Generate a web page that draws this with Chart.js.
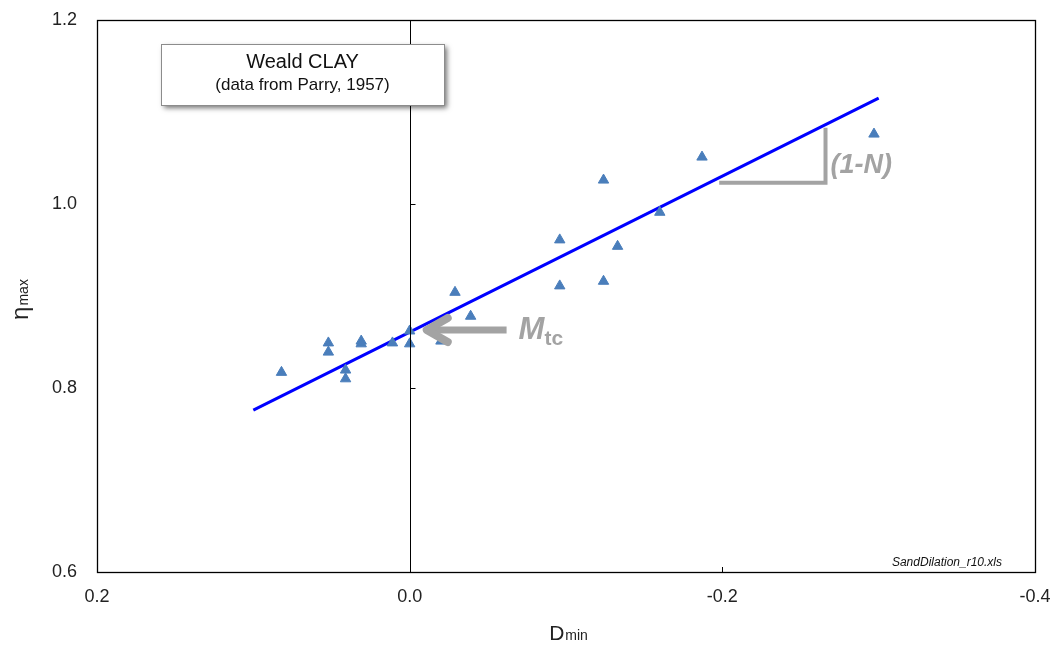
<!DOCTYPE html>
<html>
<head>
<meta charset="utf-8">
<script src="https://cdn.jsdelivr.net/npm/chart.js@4"></script>
<style>
  html, body { margin: 0; padding: 0; background: #fff; }
  #wrap { width: 1053px; height: 646px; }
</style>
</head>
<body>
<div id="wrap"><canvas id="c" width="1053" height="646"></canvas></div>
<script>
// Weald clay: peak stress ratio vs minimum dilatancy (Parry, 1957)
const dMin = [0.082, 0.052, 0.052, 0.041, 0.041, 0.031, 0.031, 0.011, 0.0, 0.0, -0.020,
  -0.029, -0.039, -0.096, -0.096, -0.124, -0.124, -0.133, -0.160, -0.187, -0.297];
const etaMax = [0.817, 0.849, 0.839, 0.8195, 0.810, 0.851, 0.848, 0.849, 0.862, 0.848, 0.851,
  0.904, 0.878, 0.961, 0.911, 1.026, 0.916, 0.954, 0.991, 1.051, 1.076];

// fitted line eta = Mtc - (1-N) * D
const fitX = [0.1, -0.3];
const fitY = [0.776, 1.115];

const xTicks = [0.2, 0.0, -0.2, -0.4];
const yTicks = [0.6, 0.8, 1.0, 1.2];

const GREY = '#a3a3a3';
const SANS = '"Liberation Sans", Arial, sans-serif';

const toPts = (xs, ys) => xs.map((x, i) => ({ x, y: ys[i] }));

// draws frame, zero line, annotations and axis titles
const decor = {
  id: 'decor',
  afterDatasetsDraw(chart) {
    const { ctx, chartArea: a, scales: { x, y } } = chart;
    ctx.save();

    // frame
    ctx.strokeStyle = '#000';
    ctx.lineWidth = 1.3;
    ctx.strokeRect(a.left + 0.5, a.top + 0.5, a.right - a.left, a.bottom - a.top);

    // vertical line at D = 0 with small ticks
    const x0 = Math.round(x.getPixelForValue(0)) + 0.5;
    ctx.lineWidth = 1;
    ctx.beginPath();
    ctx.moveTo(x0, a.top); ctx.lineTo(x0, a.bottom);
    [0.8, 1.0].forEach(v => {
      const py = Math.round(y.getPixelForValue(v)) + 0.5;
      ctx.moveTo(x0, py); ctx.lineTo(x0 + 5, py);
    });
    const xt = Math.round(x.getPixelForValue(-0.2)) + 0.5;
    ctx.moveTo(xt, a.bottom); ctx.lineTo(xt, a.bottom - 5);
    ctx.stroke();
    ctx.restore();
  },
  afterDraw(chart) {
    const { ctx, chartArea: a, scales: { x, y } } = chart;
    ctx.save();

    // Mtc arrow
    const ay = y.getPixelForValue(0.863);
    const ax1 = x.getPixelForValue(-0.062), tip = x.getPixelForValue(-0.009);
    ctx.strokeStyle = GREY; ctx.fillStyle = GREY;
    ctx.lineWidth = 7; ctx.lineCap = 'butt';
    ctx.beginPath(); ctx.moveTo(ax1, ay); ctx.lineTo(tip + 6, ay); ctx.stroke();
    ctx.lineWidth = 8; ctx.lineJoin = 'round'; ctx.lineCap = 'round';
    ctx.beginPath();
    ctx.moveTo(tip + 24, ay - 12); ctx.lineTo(tip + 3, ay); ctx.lineTo(tip + 24, ay + 12);
    ctx.stroke();

    ctx.textBaseline = 'alphabetic';
    ctx.font = 'italic bold 31px ' + SANS;
    ctx.fillText('M', ax1 + 12, ay + 9);
    const mw = ctx.measureText('M').width;
    ctx.font = 'bold 21px ' + SANS;
    ctx.fillText('tc', ax1 + 12 + mw, ay + 15);

    // slope triangle (1-N)
    const tx1 = x.getPixelForValue(-0.198), tx2 = x.getPixelForValue(-0.266);
    const ty1 = y.getPixelForValue(1.023), ty2 = y.getPixelForValue(1.083);
    ctx.lineWidth = 4; ctx.lineCap = 'butt'; ctx.lineJoin = 'miter';
    ctx.beginPath();
    ctx.moveTo(tx1, ty1); ctx.lineTo(tx2, ty1); ctx.lineTo(tx2, ty2);
    ctx.stroke();
    ctx.font = 'italic bold 27px ' + SANS;
    ctx.fillText('(1-N)', tx2 + 5, ty1 - 10);

    // title box
    const bx = 161, by = 44, bw = 283, bh = 61;
    ctx.save();
    ctx.shadowColor = 'rgba(0,0,0,0.55)';
    ctx.shadowBlur = 5; ctx.shadowOffsetX = 3; ctx.shadowOffsetY = 3;
    ctx.fillStyle = '#fff';
    ctx.fillRect(bx, by, bw, bh);
    ctx.restore();
    ctx.strokeStyle = '#8c8c8c'; ctx.lineWidth = 1;
    ctx.strokeRect(bx + 0.5, by + 0.5, bw, bh);
    ctx.fillStyle = '#111'; ctx.textAlign = 'center';
    ctx.font = '20px ' + SANS;
    ctx.fillText('Weald CLAY', bx + bw / 2, by + 24);
    ctx.font = '17px ' + SANS;
    ctx.fillText('(data from Parry, 1957)', bx + bw / 2, by + 46);

    // file tag
    ctx.font = 'italic 12px ' + SANS;
    ctx.textAlign = 'right';
    ctx.fillText('SandDilation_r10.xls', a.right - 33, a.bottom - 6);

    // axis titles
    ctx.fillStyle = '#222';
    ctx.textAlign = 'left';
    ctx.font = '21px ' + SANS;
    const dw = ctx.measureText('D').width;
    ctx.font = '14px ' + SANS;
    const mw2 = ctx.measureText('min').width;
    const dx = (a.left + a.right) / 2 - (dw + mw2) / 2 + 2;
    ctx.font = '21px ' + SANS;
    ctx.fillText('D', dx, 640);
    ctx.font = '14px ' + SANS;
    ctx.fillText('min', dx + dw + 1, 640);

    ctx.translate(28, 300);
    ctx.rotate(-Math.PI / 2);
    ctx.font = '24px ' + SANS;
    const ew = ctx.measureText('η').width;
    ctx.font = '14px ' + SANS;
    const xw = ctx.measureText('max').width;
    const ex = -(ew + xw) / 2;
    ctx.font = '24px ' + SANS;
    ctx.fillText('η', ex, 0);
    ctx.font = '14px ' + SANS;
    ctx.fillText('max', ex + ew + 1, 0);

    ctx.restore();
  }
};

new Chart(document.getElementById('c'), {
  type: 'scatter',
  data: {
    datasets: [
      {
        label: 'fit',
        type: 'line',
        data: toPts(fitX, fitY),
        borderColor: '#0000ff',
        borderWidth: 3,
        pointRadius: 0,
        fill: false,
        order: 2
      },
      {
        label: 'Weald clay',
        data: toPts(dMin, etaMax),
        pointStyle: 'triangle',
        pointRadius: 6,
        backgroundColor: '#4a7ebb',
        borderColor: '#4a7ebb',
        borderWidth: 1,
        order: 1
      }
    ]
  },
  options: {
    responsive: false,
    animation: false,
    layout: { padding: { top: 20, right: 18, left: 0, bottom: 0 } },
    plugins: { legend: { display: false }, tooltip: { enabled: false } },
    scales: {
      x: {
        type: 'linear',
        reverse: true,
        min: -0.4, max: 0.2,
        afterBuildTicks: s => { s.ticks = xTicks.map(v => ({ value: v })); },
        afterFit: s => { s.height = 74; s.paddingLeft = 0; s.paddingRight = 0; },
        grid: { display: false, drawTicks: false },
        border: { display: false },
        ticks: {
          padding: 14,
          color: '#222',
          font: { family: SANS, size: 18 },
          callback: v => v.toFixed(1)
        }
      },
      y: {
        type: 'linear',
        min: 0.6, max: 1.2,
        afterBuildTicks: s => { s.ticks = yTicks.map(v => ({ value: v })); },
        afterFit: s => { s.width = 97; s.paddingTop = 0; s.paddingBottom = 0; },
        grid: { display: false, drawTicks: false },
        border: { display: false },
        ticks: {
          padding: 20,
          color: '#222',
          font: { family: SANS, size: 18 },
          callback: v => v.toFixed(1)
        }
      }
    }
  },
  plugins: [decor]
});
</script>
</body>
</html>
